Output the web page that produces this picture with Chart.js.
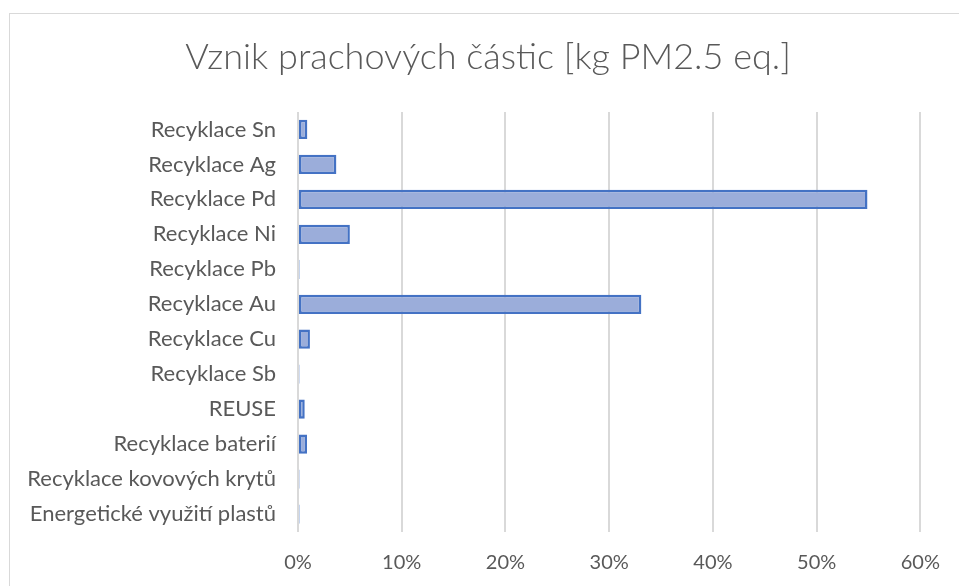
<!DOCTYPE html>
<html lang="cs">
<head>
<meta charset="utf-8">
<title>Vznik prachových částic</title>
<script src="https://cdn.jsdelivr.net/npm/chart.js@4.4.1/dist/chart.umd.min.js"></script>
<style>
  html, body { margin: 0; padding: 0; background: #fff; }
  .ramecek {
    position: absolute; left: 9px; top: 13px; width: 960px; height: 600px;
    border: 1px solid #d9d9d9; box-sizing: border-box;
  }
  .plocha { position: absolute; left: 0; top: 0; width: 959px; height: 586px; }
</style>
</head>
<body>
<div class="ramecek"></div>
<div class="plocha"><canvas id="graf"></canvas></div>
<script>
// data (podíl v %)
const kategorie = [
  "Recyklace Sn",
  "Recyklace Ag",
  "Recyklace Pd",
  "Recyklace Ni",
  "Recyklace Pb",
  "Recyklace Au",
  "Recyklace Cu",
  "Recyklace Sb",
  "REUSE",
  "Recyklace baterií",
  "Recyklace kovových krytů",
  "Energetické využití plastů",
];
const podily = [0.9, 3.7, 54.9, 5.0, 0.15, 33.1, 1.15, 0.13, 0.65, 0.87, 0.1, 0.15];
const osaX = [0, 10, 20, 30, 40, 50, 60];
const nadpis = "Vznik prachových částic [kg PM2.5 eq.]";

const SEDA = "#595959";
const PISMO = "Lato, 'Open Sans', sans-serif";

// nadpis kreslený ručně – v Excelu je posunutý trochu doprava od středu plátna
const nadpisPlugin = {
  id: "nadpis",
  afterDraw(chart) {
    const ctx = chart.ctx;
    ctx.save();
    ctx.font = `300 36px ${PISMO}`;
    ctx.fillStyle = SEDA;
    ctx.textAlign = "center";
    ctx.textBaseline = "alphabetic";
    ctx.fillText(nadpis, 488, 69);
    ctx.restore();
  },
};

new Chart(document.getElementById("graf"), {
  type: "bar",
  data: {
    labels: kategorie,
    datasets: [{
      label: "Vznik prachových částic",
      data: podily,
      backgroundColor: "#9badda",
      borderColor: "#4472c4",
      borderWidth: 2.5,
      borderSkipped: false,
      minBarLength: 1.5,
      barPercentage: 0.55,
      categoryPercentage: 1,
    }],
  },
  options: {
    indexAxis: "y",
    responsive: true, maintainAspectRatio: false,
    animation: false,
    layout: { padding: { left: 0, right: 38, top: 112, bottom: 0 } },
    plugins: {
      legend: { display: false },
      tooltip: { enabled: false },
      title: { display: false },
    },
    scales: {
      x: {
        min: osaX[0], max: osaX[osaX.length - 1],
        afterBuildTicks: (s) => { s.ticks = osaX.map((v) => ({ value: v })); },
        afterFit: (s) => { s.height = 54.5; },
        grid: { color: "#d9d9d9", lineWidth: 2, drawTicks: false },
        border: { display: false },
        ticks: {
          color: SEDA, padding: 19,
          font: { family: PISMO, size: 20 },
          callback: (v) => v + "%",
        },
      },
      y: {
        afterFit: (s) => { s.width = 298; },
        grid: { display: false },
        border: { display: false },
        ticks: {
          color: SEDA, padding: 14,
          font: { family: PISMO, size: 22 },
        },
      },
    },
  },
  plugins: [nadpisPlugin],
});
</script>
</body>
</html>
